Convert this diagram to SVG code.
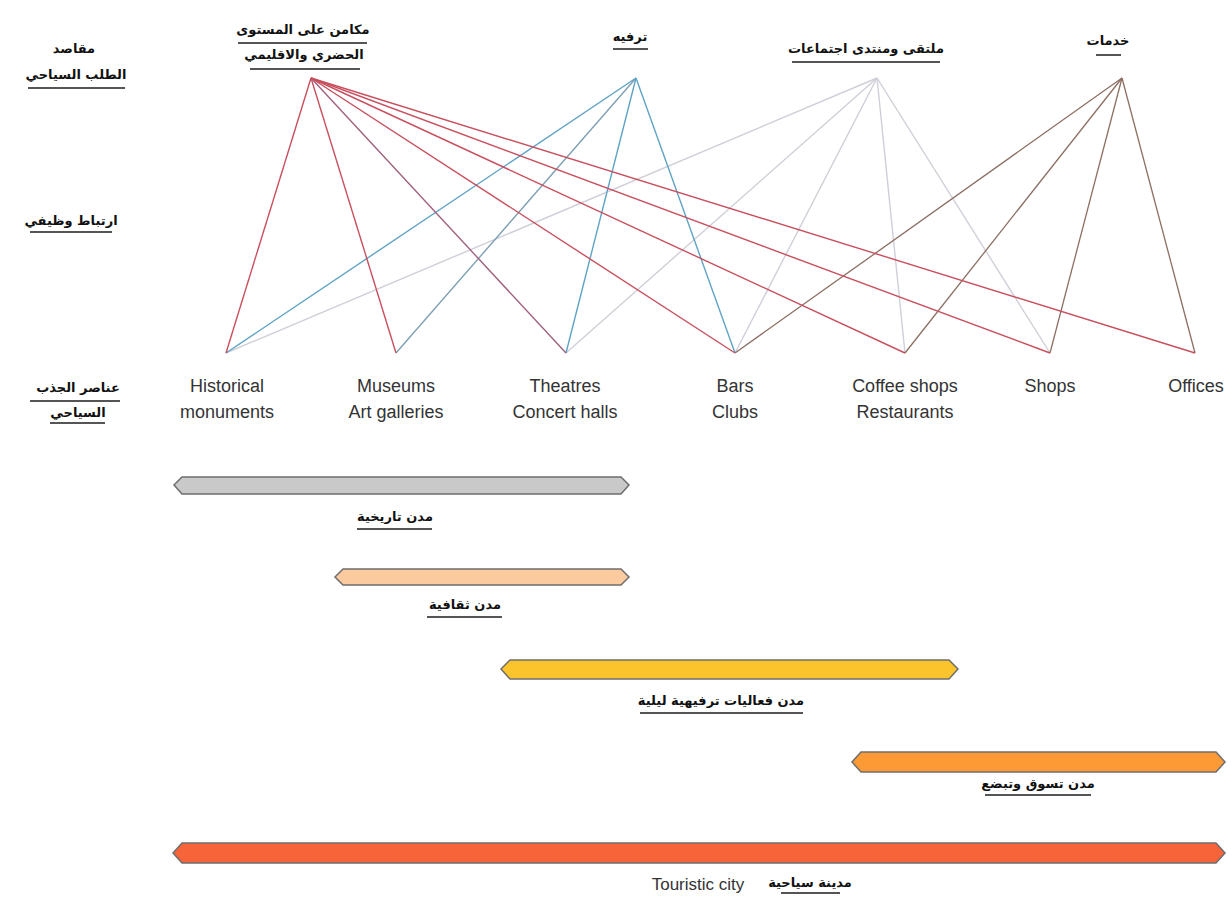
<svg xmlns="http://www.w3.org/2000/svg" width="1232" height="912" viewBox="0 0 1232 912">
<style>
.ar{font-family:"DejaVu Sans",sans-serif;font-weight:bold;font-size:13px;fill:#111;text-anchor:middle}
.en{font-family:"Liberation Sans",Arial,sans-serif;font-size:18px;fill:#333;text-anchor:middle}
.ul{stroke:#555;stroke-width:2}
.a{stroke:#c8505e;stroke-width:1.4;fill:none}
.a2{stroke:#a0607e;stroke-width:1.4;fill:none}
.b{stroke:#5fa3c4;stroke-width:1.4;fill:none}
.c{stroke:#cfcfd9;stroke-width:1.4;fill:none}
.d{stroke:#8c6f62;stroke-width:1.3;fill:none}
.bar{stroke:#6e6e6e;stroke-width:1.5}
</style>
<rect width="1232" height="912" fill="#fff"/>
<g id="connectors">
<line class="c" x1="877" y1="78" x2="226" y2="353"/>
<line class="c" x1="877" y1="78" x2="566" y2="353"/>
<line class="c" x1="877" y1="78" x2="735" y2="353"/>
<line class="c" x1="877" y1="78" x2="905" y2="353"/>
<line class="c" x1="877" y1="78" x2="1050" y2="353"/>
<line class="d" x1="1122" y1="78" x2="735" y2="353"/>
<line class="d" x1="1122" y1="78" x2="905" y2="353"/>
<line class="d" x1="1122" y1="78" x2="1050" y2="353"/>
<line class="d" x1="1122" y1="78" x2="1195" y2="353"/>
<line class="b" x1="636" y1="78" x2="226" y2="353"/>
<line class="b" x1="636" y1="78" x2="396" y2="353" style="stroke:#7fa0b4"/>
<line class="b" x1="636" y1="78" x2="566" y2="353"/>
<line class="b" x1="636" y1="78" x2="735" y2="353"/>
<line class="a" x1="311" y1="78" x2="226" y2="353"/>
<line class="a" x1="311" y1="78" x2="396" y2="353"/>
<line class="a2" x1="311" y1="78" x2="566" y2="353"/>
<line class="a" x1="311" y1="78" x2="735" y2="353"/>
<line class="a" x1="311" y1="78" x2="905" y2="353"/>
<line class="a" x1="311" y1="78" x2="1050" y2="353"/>
<line class="a" x1="311" y1="78" x2="1195" y2="353"/>
</g>
<g id="row-labels">
<text class="ar" x="74" y="53">مقاصد</text>
<text class="ar" x="76" y="79">الطلب السياحي</text>
<line class="ul" x1="28" y1="88" x2="125" y2="88"/>
<text class="ar" x="71" y="225">ارتباط وظيفي</text>
<line class="ul" x1="30" y1="232" x2="112" y2="232"/>
<text class="ar" x="78" y="392">عناصر الجذب</text>
<line class="ul" x1="30" y1="401" x2="120" y2="401"/>
<text class="ar" x="78" y="417">السياحي</text>
<line class="ul" x1="50" y1="423" x2="105" y2="423"/>
</g>
<g id="node-A">
<text class="ar" x="303" y="34">مكامن على المستوى</text>
<line class="ul" x1="238" y1="43" x2="367" y2="43"/>
<text class="ar" x="304" y="59">الحضري والاقليمي</text>
<line class="ul" x1="250" y1="69" x2="360" y2="69"/>
</g>
<g id="node-B">
<text class="ar" x="630" y="41">ترفيه</text>
<line class="ul" x1="613" y1="49" x2="648" y2="49"/>
</g>
<g id="node-C">
<text class="ar" x="866" y="53">ملتقى ومنتدى اجتماعات</text>
<line class="ul" x1="792" y1="62" x2="940" y2="62"/>
</g>
<g id="node-D">
<text class="ar" x="1108" y="45">خدمات</text>
<line class="ul" x1="1096" y1="55" x2="1121" y2="55"/>
</g>
<g id="n-historical"><text class="en" x="227" y="392">Historical</text><text class="en" x="227" y="418">monuments</text></g>
<g id="n-museums"><text class="en" x="396" y="392">Museums</text><text class="en" x="396" y="418">Art galleries</text></g>
<g id="n-theatres"><text class="en" x="565" y="392">Theatres</text><text class="en" x="565" y="418">Concert halls</text></g>
<g id="n-bars"><text class="en" x="735" y="392">Bars</text><text class="en" x="735" y="418">Clubs</text></g>
<g id="n-coffee"><text class="en" x="905" y="392">Coffee shops</text><text class="en" x="905" y="418">Restaurants</text></g>
<g id="n-shops"><text class="en" x="1050" y="392">Shops</text></g>
<g id="n-offices"><text class="en" x="1196" y="392">Offices</text></g>
<g id="bar-historic">
<path class="bar" fill="#c9c9c9" d="M174,485 L182,477 L621,477 L629,485 L621,494 L182,494 Z"/>
<text class="ar" x="395" y="521">مدن تاريخية</text>
<line class="ul" x1="357" y1="529" x2="432" y2="529"/>
</g>
<g id="bar-cultural">
<path class="bar" fill="#fbca9f" d="M335,577 L343,569 L621,569 L629,577 L621,585 L343,585 Z"/>
<text class="ar" x="465" y="609">مدن ثقافية</text>
<line class="ul" x1="427" y1="617" x2="502" y2="617"/>
</g>
<g id="bar-night">
<path class="bar" fill="#fcc42c" d="M501,669 L510,660 L949,660 L958,669 L949,679 L510,679 Z"/>
<text class="ar" x="721" y="705">مدن فعاليات ترفيهية ليلية</text>
<line class="ul" x1="640" y1="713" x2="803" y2="713"/>
</g>
<g id="bar-shopping">
<path class="bar" fill="#fd9a35" d="M852,762 L861,752 L1216,752 L1225,762 L1216,772 L861,772 Z"/>
<text class="ar" x="1038" y="788">مدن تسوق وتبضع</text>
<line class="ul" x1="985" y1="795" x2="1091" y2="795"/>
</g>
<g id="bar-touristic">
<path class="bar" fill="#f7643a" d="M173,853 L182,843 L1216,843 L1225,853 L1216,863 L182,863 Z"/>
<text class="en" x="698" y="890" style="font-size:17px">Touristic city</text>
<text class="ar" x="810" y="887">مدينة سياحية</text>
<line class="ul" x1="781" y1="893" x2="840" y2="893"/>
</g>
</svg>
